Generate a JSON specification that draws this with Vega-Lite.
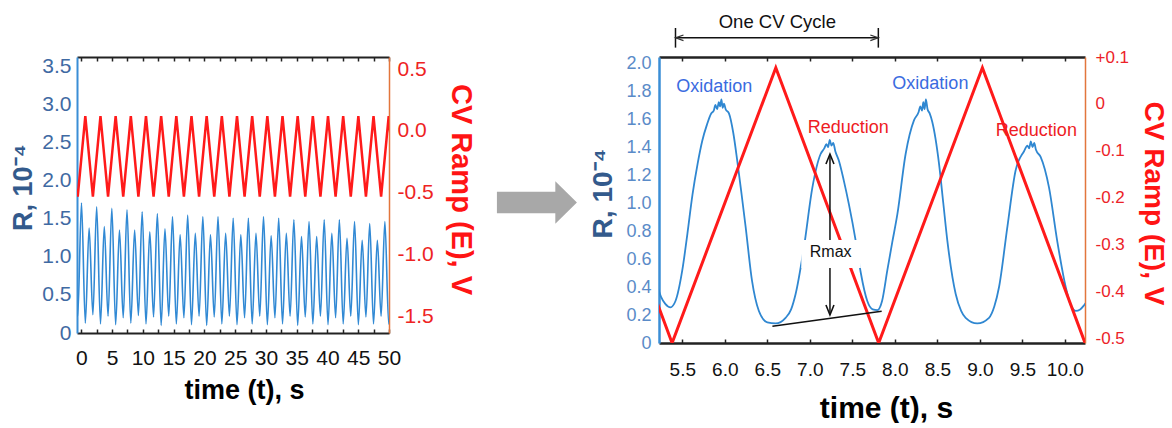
{
  "$schema": "https://vega.github.io/schema/vega-lite/v6.json",
  "padding": {"left": 9, "top": 13, "right": 0, "bottom": 0},
  "spacing": 10,
  "config": {"view": {"stroke": null}, "font": "Liberation Sans", "axis": {"grid": false, "labelFlush": false, "labelOverlap": false}},
  "datasets": {
    "leftR": [
      {"t": -0.7, "R": 0.26}, {"t": -0.5825, "R": 0.22},
      {"t": 0.03, "R": 1.71}, {"t": 0.65, "R": 0.13}, {"t": 1.27, "R": 1.38}, {"t": 1.8825, "R": 0.24},
      {"t": 2.495, "R": 1.66}, {"t": 3.115, "R": 0.12}, {"t": 3.735, "R": 1.40}, {"t": 4.3475, "R": 0.22},
      {"t": 4.96, "R": 1.64}, {"t": 5.58, "R": 0.11}, {"t": 6.2, "R": 1.355}, {"t": 6.8125, "R": 0.2},
      {"t": 7.425, "R": 1.62}, {"t": 8.045, "R": 0.13}, {"t": 8.665, "R": 1.355}, {"t": 9.2775, "R": 0.23},
      {"t": 9.89, "R": 1.595}, {"t": 10.51, "R": 0.12}, {"t": 11.13, "R": 1.33}, {"t": 11.7425, "R": 0.21},
      {"t": 12.355, "R": 1.57}, {"t": 12.975, "R": 0.1}, {"t": 13.595, "R": 1.37}, {"t": 14.2075, "R": 0.22},
      {"t": 14.82, "R": 1.53}, {"t": 15.44, "R": 0.12}, {"t": 16.06, "R": 1.29}, {"t": 16.6725, "R": 0.2},
      {"t": 17.285, "R": 1.55}, {"t": 17.905, "R": 0.11}, {"t": 18.525, "R": 1.31}, {"t": 19.1375, "R": 0.22},
      {"t": 19.75, "R": 1.53}, {"t": 20.37, "R": 0.1}, {"t": 20.99, "R": 1.29}, {"t": 21.6025, "R": 0.21},
      {"t": 22.215, "R": 1.53}, {"t": 22.835, "R": 0.12}, {"t": 23.455, "R": 1.31}, {"t": 24.0675, "R": 0.22},
      {"t": 24.68, "R": 1.51}, {"t": 25.3, "R": 0.11}, {"t": 25.92, "R": 1.29}, {"t": 26.5325, "R": 0.2},
      {"t": 27.145, "R": 1.51}, {"t": 27.765, "R": 0.12}, {"t": 28.385, "R": 1.31}, {"t": 28.9975, "R": 0.22},
      {"t": 29.61, "R": 1.53}, {"t": 30.23, "R": 0.11}, {"t": 30.85, "R": 1.28}, {"t": 31.4625, "R": 0.2},
      {"t": 32.075, "R": 1.51}, {"t": 32.695, "R": 0.12}, {"t": 33.315, "R": 1.31}, {"t": 33.9275, "R": 0.22},
      {"t": 34.54, "R": 1.49}, {"t": 35.16, "R": 0.1}, {"t": 35.78, "R": 1.27}, {"t": 36.3925, "R": 0.21},
      {"t": 37.005, "R": 1.465}, {"t": 37.625, "R": 0.12}, {"t": 38.245, "R": 1.27}, {"t": 38.8575, "R": 0.22},
      {"t": 39.47, "R": 1.49}, {"t": 40.09, "R": 0.11}, {"t": 40.71, "R": 1.31}, {"t": 41.3225, "R": 0.2},
      {"t": 41.935, "R": 1.49}, {"t": 42.555, "R": 0.12}, {"t": 43.175, "R": 1.245}, {"t": 43.7875, "R": 0.22},
      {"t": 44.4, "R": 1.465}, {"t": 45.02, "R": 0.11}, {"t": 45.64, "R": 1.22}, {"t": 46.2525, "R": 0.21},
      {"t": 46.865, "R": 1.44}, {"t": 47.485, "R": 0.12}, {"t": 48.105, "R": 1.22}, {"t": 48.7175, "R": 0.22},
      {"t": 49.33, "R": 1.465}, {"t": 49.95, "R": 0.12}, {"t": 50.57, "R": 1.3}
    ],
    "leftE": [
      {"t": -0.7, "E": -0.468}, {"t": -0.5825, "E": -0.53},
      {"t": 0.65, "E": 0.12}, {"t": 1.8825, "E": -0.53},
      {"t": 3.115, "E": 0.12}, {"t": 4.3475, "E": -0.53},
      {"t": 5.58, "E": 0.12}, {"t": 6.8125, "E": -0.53},
      {"t": 8.045, "E": 0.12}, {"t": 9.2775, "E": -0.53},
      {"t": 10.51, "E": 0.12}, {"t": 11.7425, "E": -0.53},
      {"t": 12.975, "E": 0.12}, {"t": 14.2075, "E": -0.53},
      {"t": 15.44, "E": 0.12}, {"t": 16.6725, "E": -0.53},
      {"t": 17.905, "E": 0.12}, {"t": 19.1375, "E": -0.53},
      {"t": 20.37, "E": 0.12}, {"t": 21.6025, "E": -0.53},
      {"t": 22.835, "E": 0.12}, {"t": 24.0675, "E": -0.53},
      {"t": 25.3, "E": 0.12}, {"t": 26.5325, "E": -0.53},
      {"t": 27.765, "E": 0.12}, {"t": 28.9975, "E": -0.53},
      {"t": 30.23, "E": 0.12}, {"t": 31.4625, "E": -0.53},
      {"t": 32.695, "E": 0.12}, {"t": 33.9275, "E": -0.53},
      {"t": 35.16, "E": 0.12}, {"t": 36.3925, "E": -0.53},
      {"t": 37.625, "E": 0.12}, {"t": 38.8575, "E": -0.53},
      {"t": 40.09, "E": 0.12}, {"t": 41.3225, "E": -0.53},
      {"t": 42.555, "E": 0.12}, {"t": 43.7875, "E": -0.53},
      {"t": 45.02, "E": 0.12}, {"t": 46.2525, "E": -0.53},
      {"t": 47.485, "E": 0.12}, {"t": 48.7175, "E": -0.53},
      {"t": 49.95, "E": 0.12}, {"t": 51.18, "E": -0.53}
    ],
    "rightR": [
      {"t": 5.20, "R": 0.42}, {"t": 5.25, "R": 0.33}, {"t": 5.30, "R": 0.28}, {"t": 5.36, "R": 0.255},
      {"t": 5.42, "R": 0.30}, {"t": 5.50, "R": 0.52}, {"t": 5.56, "R": 0.78}, {"t": 5.62, "R": 1.06},
      {"t": 5.68, "R": 1.28}, {"t": 5.735, "R": 1.445}, {"t": 5.79, "R": 1.56}, {"t": 5.84, "R": 1.64},
      {"t": 5.87, "R": 1.66}, {"t": 5.89, "R": 1.70}, {"t": 5.91, "R": 1.67}, {"t": 5.93, "R": 1.72},
      {"t": 5.945, "R": 1.69}, {"t": 5.96, "R": 1.74}, {"t": 5.975, "R": 1.68}, {"t": 5.99, "R": 1.71},
      {"t": 6.01, "R": 1.67}, {"t": 6.049, "R": 1.64}, {"t": 6.10, "R": 1.50}, {"t": 6.147, "R": 1.30},
      {"t": 6.20, "R": 1.05}, {"t": 6.245, "R": 0.83}, {"t": 6.32, "R": 0.445}, {"t": 6.40, "R": 0.23},
      {"t": 6.50, "R": 0.148}, {"t": 6.598, "R": 0.14}, {"t": 6.715, "R": 0.18}, {"t": 6.78, "R": 0.24},
      {"t": 6.833, "R": 0.35}, {"t": 6.93, "R": 0.68}, {"t": 7.03, "R": 1.11}, {"t": 7.127, "R": 1.35},
      {"t": 7.17, "R": 1.39}, {"t": 7.195, "R": 1.42}, {"t": 7.215, "R": 1.40}, {"t": 7.235, "R": 1.45},
      {"t": 7.255, "R": 1.41}, {"t": 7.275, "R": 1.43}, {"t": 7.30, "R": 1.37}, {"t": 7.343, "R": 1.30},
      {"t": 7.40, "R": 1.16}, {"t": 7.46, "R": 0.99}, {"t": 7.54, "R": 0.73}, {"t": 7.60, "R": 0.50},
      {"t": 7.676, "R": 0.30}, {"t": 7.74, "R": 0.24}, {"t": 7.794, "R": 0.235}, {"t": 7.85, "R": 0.30},
      {"t": 7.912, "R": 0.52}, {"t": 7.97, "R": 0.72}, {"t": 8.03, "R": 0.92}, {"t": 8.127, "R": 1.35},
      {"t": 8.225, "R": 1.59}, {"t": 8.28, "R": 1.65}, {"t": 8.30, "R": 1.69}, {"t": 8.32, "R": 1.66},
      {"t": 8.335, "R": 1.72}, {"t": 8.35, "R": 1.67}, {"t": 8.365, "R": 1.74}, {"t": 8.385, "R": 1.67},
      {"t": 8.41, "R": 1.64}, {"t": 8.44, "R": 1.58}, {"t": 8.52, "R": 1.28}, {"t": 8.57, "R": 1.00},
      {"t": 8.618, "R": 0.73}, {"t": 8.716, "R": 0.35}, {"t": 8.78, "R": 0.23}, {"t": 8.833, "R": 0.18},
      {"t": 8.97, "R": 0.14}, {"t": 9.108, "R": 0.18}, {"t": 9.17, "R": 0.26}, {"t": 9.226, "R": 0.40},
      {"t": 9.324, "R": 0.83}, {"t": 9.42, "R": 1.23}, {"t": 9.52, "R": 1.37}, {"t": 9.56, "R": 1.41},
      {"t": 9.58, "R": 1.39}, {"t": 9.60, "R": 1.44}, {"t": 9.62, "R": 1.40}, {"t": 9.64, "R": 1.43},
      {"t": 9.66, "R": 1.38}, {"t": 9.715, "R": 1.33}, {"t": 9.814, "R": 1.11}, {"t": 9.91, "R": 0.73},
      {"t": 10.01, "R": 0.40}, {"t": 10.07, "R": 0.27}, {"t": 10.127, "R": 0.23}, {"t": 10.18, "R": 0.24},
      {"t": 10.226, "R": 0.27}, {"t": 10.25, "R": 0.29}
    ],
    "rightE": [
      {"t": 5.20, "E": -0.422}, {"t": 5.38, "E": -0.51}, {"t": 6.6, "E": 0.077},
      {"t": 7.81, "E": -0.51}, {"t": 9.03, "E": 0.077}, {"t": 10.25, "E": -0.516}
    ],
    "segs": [
      {"t": 7.237, "R": 0.21, "t2": 7.237, "R2": 1.34},
      {"t": 6.56, "R": 0.12, "t2": 7.845, "R2": 0.226},
      {"t": 5.42, "R": 2.18, "t2": 7.806, "R2": 2.18},
      {"t": 5.42, "R": 2.11, "t2": 5.42, "R2": 2.25},
      {"t": 7.806, "R": 2.11, "t2": 7.806, "R2": 2.25}
    ],
    "box": [{"t": 6.9, "t2": 7.6, "R": 0.535, "R2": 0.735}],
    "heads": [
      {"t": 7.237, "R": 1.314, "dir": "up"},
      {"t": 7.237, "R": 0.236, "dir": "down"},
      {"t": 5.467, "R": 2.18, "dir": "left"},
      {"t": 7.759, "R": 2.18, "dir": "right"}
    ],
    "labels": [
      {"label": "Oxidation", "t": 5.876, "R": 1.83, "kind": "ox"},
      {"label": "Oxidation", "t": 8.418, "R": 1.85, "kind": "ox"},
      {"label": "Reduction", "t": 7.453, "R": 1.536, "kind": "red"},
      {"label": "Reduction", "t": 9.665, "R": 1.516, "kind": "red"}
    ],
    "notes": [
      {"label": "Rmax", "t": 7.245, "R": 0.648, "kind": "note"}
    ],
    "cycle": [
      {"label": "One CV Cycle", "t": 6.618, "R": 2.29, "kind": "note"}
    ],
    "arrow": [{"x": 0.557, "y": 0.491}]
  },
  "hconcat": [
    {
      "width": 312,
      "height": 276,
      "layer": [
        {
          "data": {"name": "leftR"},
          "mark": {"type": "line", "color": "#3189d4", "strokeWidth": 1.6, "interpolate": "monotone", "clip": true},
          "encoding": {
            "x": {"field": "t", "type": "quantitative", "scale": {"domain": [-0.7, 50], "nice": false, "zero": false},
              "axis": {"orient": "bottom", "values": [0, 2.5, 5, 7.5, 10, 12.5, 15, 17.5, 20, 22.5, 25, 27.5, 30, 32.5, 35, 37.5, 40, 42.5, 45, 47.5, 50],
                "labelExpr": "datum.value % 5 === 0 ? format(datum.value, 'd') : ''",
                "domainColor": "#222222", "domainWidth": 2, "tickColor": "#222222", "tickWidth": 1.5, "tickSize": -4,
                "labelFontSize": 21, "labelColor": "#111111", "labelPadding": 18,
                "title": "time (t), s", "titleFontSize": 27, "titleFontWeight": "bold", "titleColor": "#000000",
                "titleX": 167, "titleY": 57, "titleBaseline": "middle", "titleAlign": "center"}},
            "y": {"field": "R", "type": "quantitative", "scale": {"domain": [0, 3.63], "nice": false, "zero": false},
              "axis": {"orient": "left", "values": [0, 0.5, 1, 1.5, 2, 2.5, 3, 3.5],
                "labelExpr": "datum.value === 0 ? '0' : format(datum.value, '.1f')",
                "ticks": false, "domainColor": "#3a8ed6", "domainWidth": 2,
                "labelFontSize": 21, "labelColor": "#3f6aa3", "labelPadding": 6,
                "title": "R, 10⁻⁴", "titleFontSize": 27, "titleFontWeight": "bold", "titleColor": "#335a8c",
                "titleAngle": 270, "titleX": -54, "titleY": 130, "titleBaseline": "middle", "titleAlign": "center"}}
          }
        },
        {
          "data": {"name": "leftE"},
          "mark": {"type": "line", "color": "#ff1a1a", "strokeWidth": 2.5, "clip": true},
          "encoding": {
            "x": {"field": "t", "type": "quantitative", "scale": {"domain": [-0.7, 50], "nice": false, "zero": false},
              "axis": {"orient": "top", "values": [0, 2.5, 5, 7.5, 10, 12.5, 15, 17.5, 20, 22.5, 25, 27.5, 30, 32.5, 35, 37.5, 40, 42.5, 45, 47.5, 50],
                "labels": false, "domainColor": "#222222", "domainWidth": 2, "tickColor": "#222222", "tickWidth": 1.5, "tickSize": -4, "title": null}},
            "y": {"field": "E", "type": "quantitative", "scale": {"domain": [-1.63, 0.597], "nice": false, "zero": false},
              "axis": {"orient": "right", "values": [-1.5, -1, -0.5, 0, 0.5],
                "labelExpr": "datum.value < 0 ? '-' + format(-datum.value, '.1f') : format(datum.value, '.1f')",
                "ticks": false, "domainColor": "#e2763c", "domainWidth": 1.5,
                "labelFontSize": 21, "labelColor": "#ee2323", "labelPadding": 8,
                "title": "CV Ramp (E), V", "titleFontSize": 29, "titleFontWeight": "bold", "titleColor": "#ff1414",
                "titleAngle": 90, "titleX": 71, "titleY": 132, "titleBaseline": "middle", "titleAlign": "center"}}
          }
        }
      ],
      "resolve": {"scale": {"y": "independent"}, "axis": {"x": "independent"}}
    },
    {
      "width": 95,
      "height": 286,
      "data": {"name": "arrow"},
      "mark": {"type": "point", "shape": "M-1,-0.27L0.46,-0.27L0.46,-0.53L1,0L0.46,0.53L0.46,0.27L-1,0.27Z", "filled": true, "color": "#a8a8a8", "opacity": 1, "size": 6400, "strokeWidth": 0},
      "encoding": {
        "x": {"field": "x", "type": "quantitative", "scale": {"domain": [0, 1]}, "axis": null},
        "y": {"field": "y", "type": "quantitative", "scale": {"domain": [0, 1]}, "axis": null}
      }
    },
    {
      "width": 426,
      "height": 286,
      "layer": [
        {
          "data": {"name": "rightR"},
          "mark": {"type": "line", "color": "#2f87d1", "strokeWidth": 1.8, "interpolate": "monotone", "clip": true},
          "encoding": {
            "x": {"field": "t", "type": "quantitative", "scale": {"domain": [5.226, 10.237], "nice": false, "zero": false},
              "axis": {"orient": "bottom", "values": [5.5, 6, 6.5, 7, 7.5, 8, 8.5, 9, 9.5, 10],
                "labelExpr": "format(datum.value, '.1f')",
                "domainColor": "#222222", "domainWidth": 2.5, "tickColor": "#222222", "tickWidth": 1.5, "tickSize": -4,
                "labelFontSize": 19, "labelColor": "#111111", "labelPadding": 21,
                "title": "time (t), s", "titleFontSize": 30, "titleFontWeight": "bold", "titleColor": "#000000",
                "titleX": 227, "titleY": 65, "titleBaseline": "middle", "titleAlign": "center"}},
            "y": {"field": "R", "type": "quantitative", "scale": {"domain": [0, 2.043], "nice": false, "zero": false},
              "axis": {"orient": "left", "values": [0, 0.2, 0.4, 0.6, 0.8, 1, 1.2, 1.4, 1.6, 1.8, 2],
                "labelExpr": "datum.value === 0 ? '0' : format(datum.value, '.1f')",
                "ticks": false, "domainColor": "#3a8ed6", "domainWidth": 2.5,
                "labelFontSize": 18, "labelColor": "#5a8bc8", "labelPadding": 8,
                "title": "R, 10⁻⁴", "titleFontSize": 28, "titleFontWeight": "bold", "titleColor": "#335a8c",
                "titleAngle": 270, "titleX": -56, "titleY": 136, "titleBaseline": "middle", "titleAlign": "center"}}
          }
        },
        {
          "data": {"name": "rightE"},
          "mark": {"type": "line", "color": "#ff1a1a", "strokeWidth": 3, "clip": true},
          "encoding": {
            "x": {"field": "t", "type": "quantitative", "scale": {"domain": [5.226, 10.237], "nice": false, "zero": false},
              "axis": {"orient": "top", "values": [5.5, 6, 6.5, 7, 7.5, 8, 8.5, 9, 9.5, 10],
                "labels": false, "domainColor": "#222222", "domainWidth": 2.5, "tickColor": "#222222", "tickWidth": 1.5, "tickSize": -4, "title": null}},
            "y": {"field": "E", "type": "quantitative", "scale": {"domain": [-0.51, 0.1], "nice": false, "zero": false},
              "axis": {"orient": "right", "values": [-0.5, -0.4, -0.3, -0.2, -0.1, 0, 0.1],
                "labelExpr": "datum.value > 0.001 ? '+' + format(datum.value, '.1f') : (abs(datum.value) < 0.001 ? '0' : '-' + format(-datum.value, '.1f'))",
                "ticks": false, "domainColor": "#e2763c", "domainWidth": 1.5,
                "labelFontSize": 17, "labelColor": "#ec2228", "labelPadding": 10,
                "title": "CV Ramp (E), V", "titleFontSize": 28, "titleFontWeight": "bold", "titleColor": "#ff1414",
                "titleAngle": 90, "titleX": 67, "titleY": 146, "titleBaseline": "middle", "titleAlign": "center"}}
          }
        },
        {
          "encoding": {
            "x": {"field": "t", "type": "quantitative", "scale": {"domain": [5.226, 10.237], "nice": false, "zero": false}, "axis": null},
            "y": {"field": "R", "type": "quantitative", "scale": {"domain": [0, 2.043], "nice": false, "zero": false}, "axis": null}
          },
          "layer": [
            {
              "data": {"name": "segs"},
              "mark": {"type": "rule", "color": "#111111", "strokeWidth": 1.5},
              "encoding": {"x2": {"field": "t2"}, "y2": {"field": "R2"}}
            },
            {
              "data": {"name": "box"},
              "mark": {"type": "rect", "color": "#ffffff", "opacity": 1},
              "encoding": {"x2": {"field": "t2"}, "y2": {"field": "R2"}}
            },
            {
              "data": {"name": "heads"},
              "transform": [{"filter": "datum.dir === 'up'"}],
              "mark": {"type": "point", "shape": "M-0.8,1L0,-1L0.8,1", "filled": false, "stroke": "#111111", "strokeWidth": 1.6, "opacity": 1, "size": 100}
            },
            {
              "data": {"name": "heads"},
              "transform": [{"filter": "datum.dir === 'down'"}],
              "mark": {"type": "point", "shape": "M-0.8,-1L0,1L0.8,-1", "filled": false, "stroke": "#111111", "strokeWidth": 1.6, "opacity": 1, "size": 100}
            },
            {
              "data": {"name": "heads"},
              "transform": [{"filter": "datum.dir === 'left'"}],
              "mark": {"type": "point", "shape": "M1,-0.7L-1,0L1,0.7", "filled": false, "stroke": "#333333", "strokeWidth": 1.2, "opacity": 1, "size": 64}
            },
            {
              "data": {"name": "heads"},
              "transform": [{"filter": "datum.dir === 'right'"}],
              "mark": {"type": "point", "shape": "M-1,-0.7L1,0L-1,0.7", "filled": false, "stroke": "#333333", "strokeWidth": 1.2, "opacity": 1, "size": 64}
            },
            {
              "data": {"name": "labels"},
              "mark": {"type": "text", "fontSize": 18, "align": "center", "baseline": "middle"},
              "encoding": {
                "text": {"field": "label"},
                "color": {"field": "kind", "type": "nominal", "scale": {"domain": ["ox", "red", "note"], "range": ["#3a6be0", "#ee1c24", "#111111"]}, "legend": null}
              }
            },
            {
              "data": {"name": "notes"},
              "mark": {"type": "text", "fontSize": 16, "align": "center", "baseline": "middle"},
              "encoding": {
                "text": {"field": "label"},
                "color": {"field": "kind", "type": "nominal", "scale": {"domain": ["ox", "red", "note"], "range": ["#3a6be0", "#ee1c24", "#111111"]}, "legend": null}
              }
            },
            {
              "data": {"name": "cycle"},
              "mark": {"type": "text", "fontSize": 18.5, "align": "center", "baseline": "middle"},
              "encoding": {
                "text": {"field": "label"},
                "color": {"field": "kind", "type": "nominal", "scale": {"domain": ["ox", "red", "note"], "range": ["#3a6be0", "#ee1c24", "#111111"]}, "legend": null}
              }
            }
          ]
        }
      ],
      "resolve": {"scale": {"y": "independent"}, "axis": {"x": "independent"}}
    }
  ]
}
